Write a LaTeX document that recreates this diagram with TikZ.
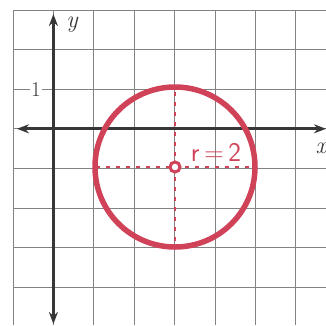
\documentclass[tikz,border=0pt]{standalone}
\usetikzlibrary{arrows.meta}
\definecolor{pen}{RGB}{208,66,88}
\definecolor{axis}{RGB}{55,55,55}
\definecolor{gridc}{RGB}{130,130,130}
\begin{document}
\begin{tikzpicture}[x=1pt,y=-1pt,
  gridline/.style={draw=gridc,line width=1pt},
  axisline/.style={draw=axis,line width=3.2pt,-{Stealth[length=12pt,width=9pt]}},
  penline/.style={draw=pen,line width=5.5pt},
  pendash/.style={draw=pen,line width=2.2pt,dash pattern=on 4pt off 6pt},
  lbl/.style={font=\fontsize{21}{21}\selectfont,text=axis,inner sep=1pt}]
\useasboundingbox (0,0) rectangle (326,325);
\fill[white] (0,0) rectangle (326,325);
% grid
\foreach \gx in {13,53.4,93.8,134.2,174.6,215,255.4,295.8}
  \draw[gridline] (\gx,10) -- (\gx,325);
\foreach \gy in {10,49.6,89.2,128.8,168.4,208,247.6,287.2}
  \draw[gridline] (13,\gy) -- (326,\gy);
% axes
\coordinate (o) at (53.4,128.8);
\coordinate (ytop) at (53.4,14);
\coordinate (ybot) at (53.4,324);
\coordinate (xleft) at (17,128.8);
\coordinate (xright) at (326,128.8);
\draw[axisline] (o) -- (ytop);
\draw[axisline] (o) -- (ybot);
\draw[axisline] (o) -- (xleft);
\draw[axisline] (o) -- (xright);
\node[lbl,fill=white] (one) at (36,89.2) {1};
\node[lbl,font=\fontsize{24}{24}\selectfont\itshape] (ylab) at (72,25) {y};
\node[lbl,font=\fontsize{24}{24}\selectfont\itshape] (xlab) at (321,148) {x};
% circle
\coordinate (c) at (175,167);
\draw[penline] (c) ellipse [x radius=80, y radius=80];
\coordinate (cl) at (96,167);
\coordinate (cr) at (254,167);
\coordinate (ct) at (175,92);
\coordinate (cb) at (175,245);
\draw[pendash] (cl) -- (c);
\draw[pendash] (c) -- (cr);
\draw[pendash] (ct) -- (c);
\draw[pendash] (c) -- (cb);
\draw[draw=pen,line width=3pt,fill=white] (c) circle (5);
\node[text=pen,font=\fontsize{27}{27}\selectfont\sffamily,inner sep=0pt] (r) at (216,152) {r\,=\,2};
\end{tikzpicture}
\end{document}
